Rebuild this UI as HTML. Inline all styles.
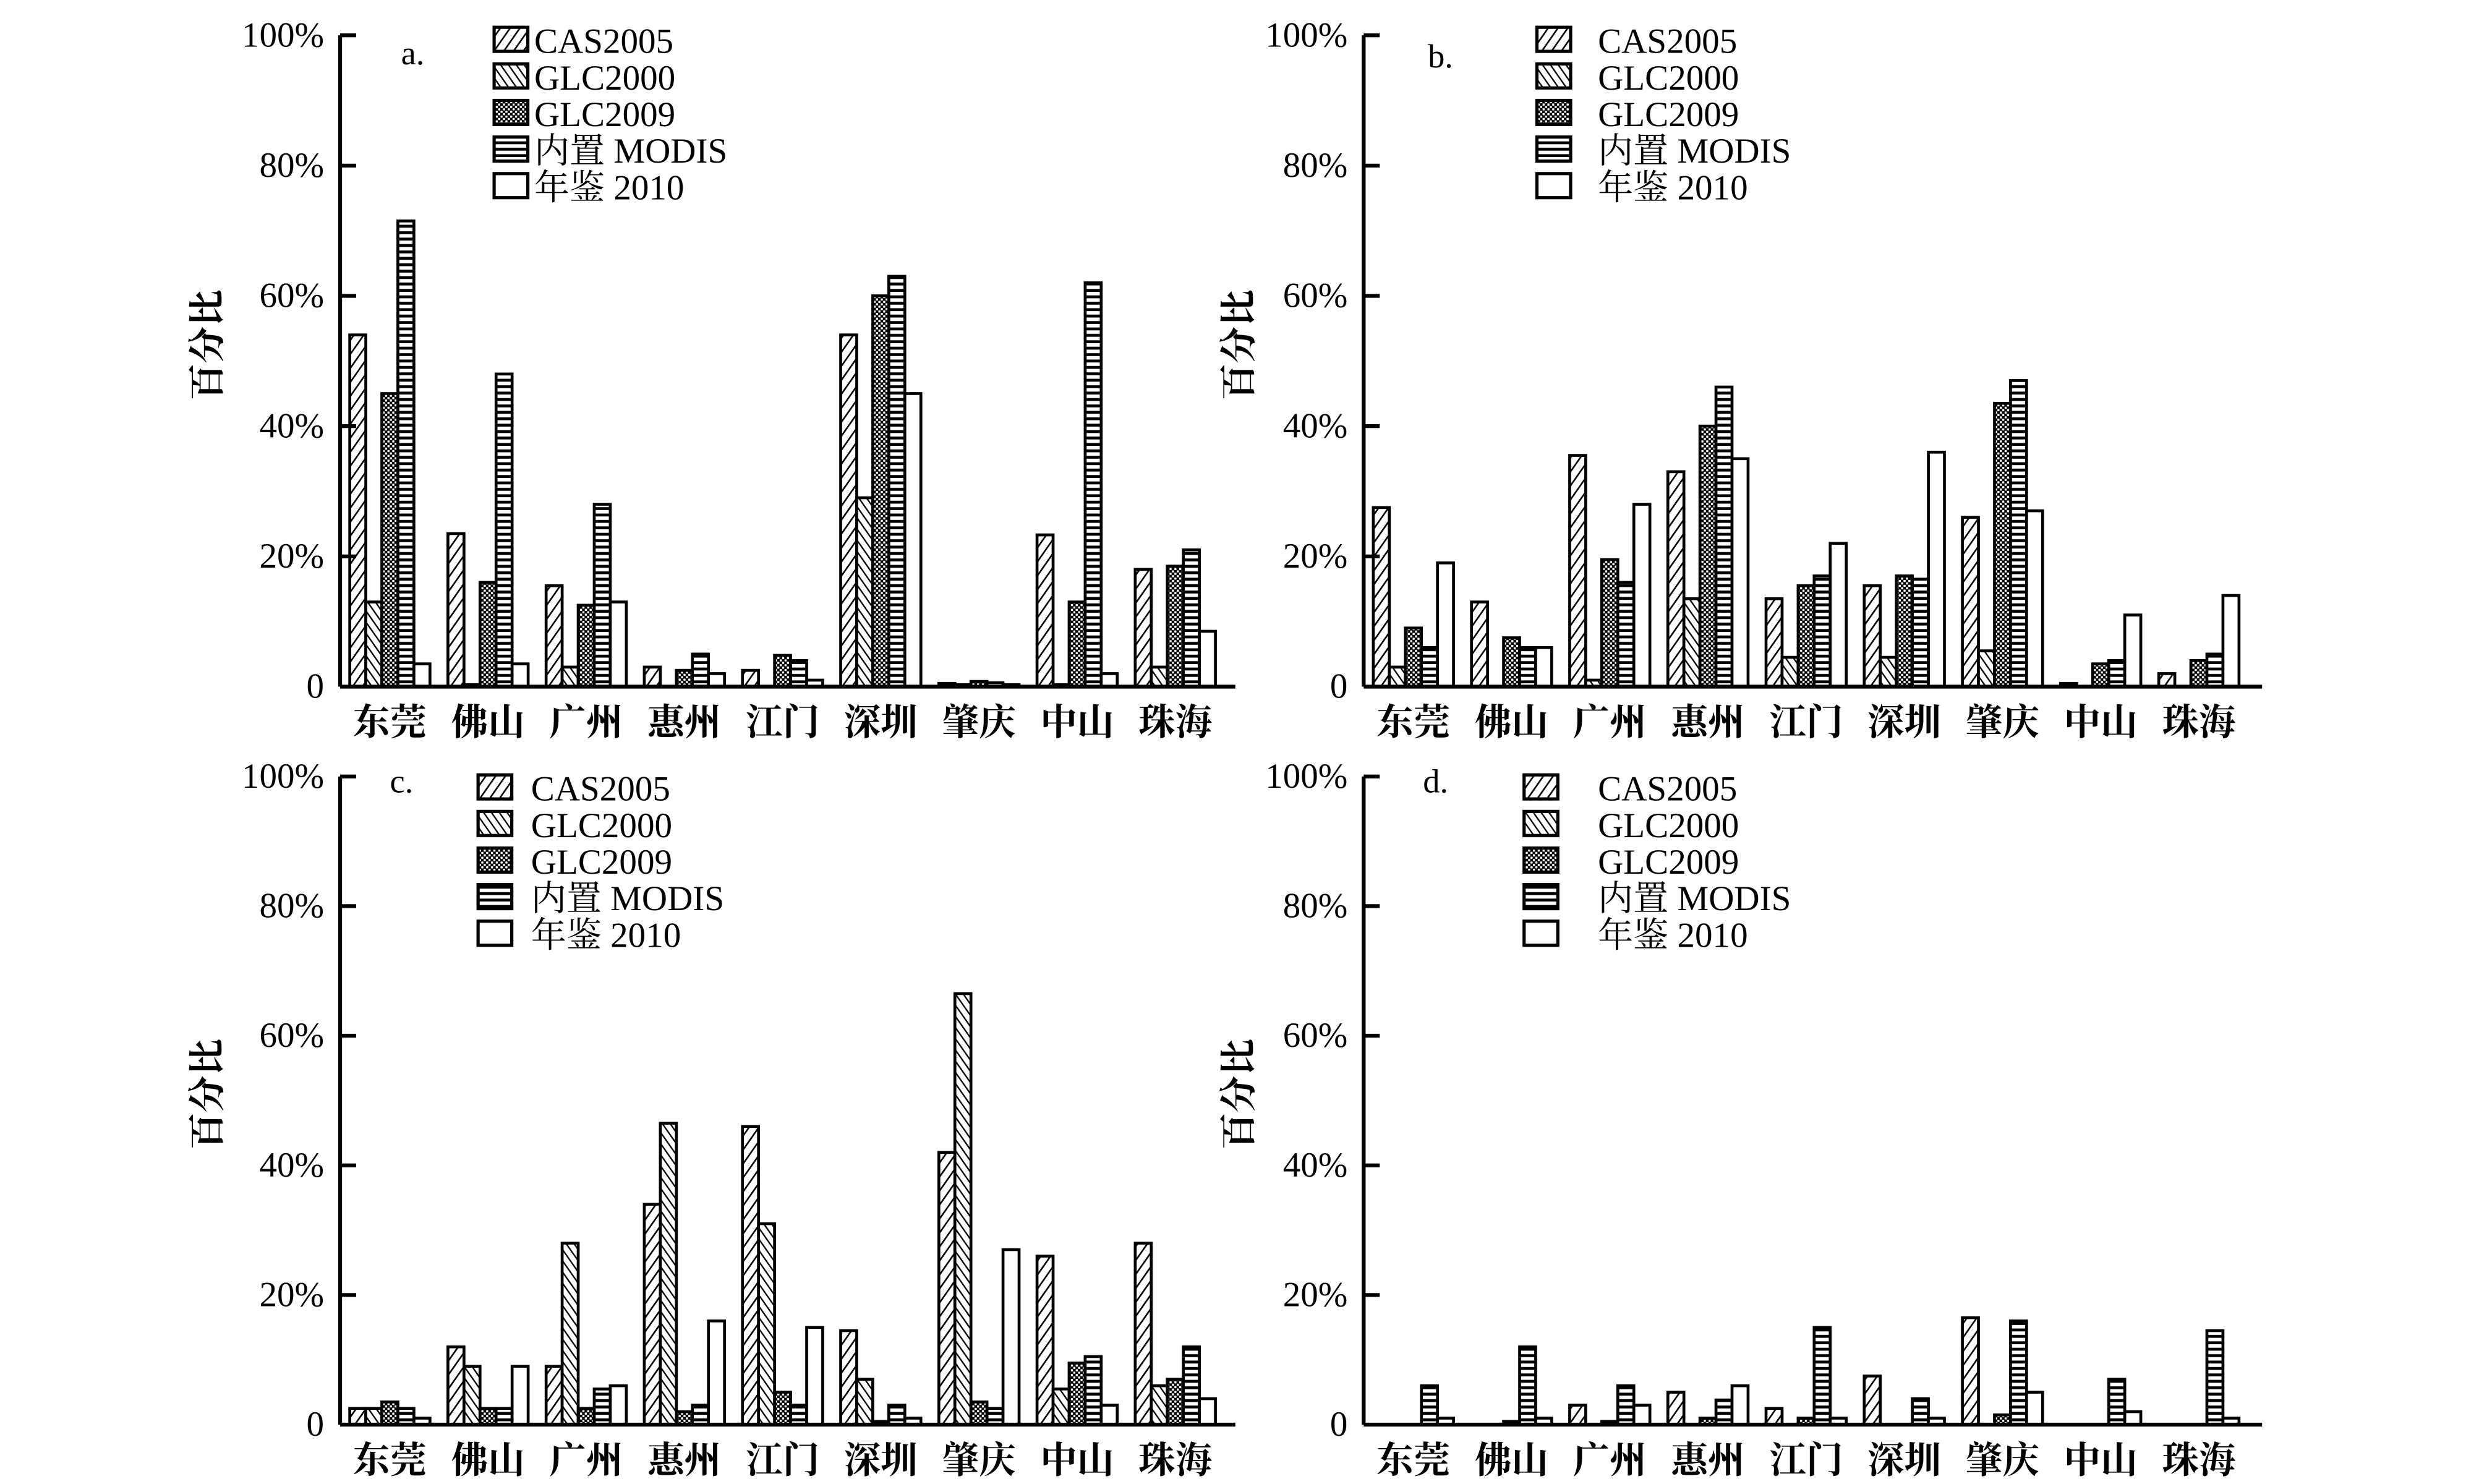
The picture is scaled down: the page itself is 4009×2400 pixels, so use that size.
<!DOCTYPE html>
<html><head><meta charset="utf-8">
<style>
html,body{margin:0;padding:0;background:#fff;}
svg{display:block;}
text{font-family:"Liberation Serif","Noto Serif CJK SC",serif;fill:#000;}
</style></head>
<body>
<svg id="chart" width="4009" height="2400" viewBox="0 0 1545.2 925" xmlns="http://www.w3.org/2000/svg">
<defs>
<pattern id="pCAS" patternUnits="userSpaceOnUse" width="5" height="5" patternTransform="rotate(35)">
<rect width="5" height="5" fill="#fff"/><line x1="0" y1="0" x2="0" y2="5" stroke="#000" stroke-width="2"/></pattern>
<pattern id="pGLC0" patternUnits="userSpaceOnUse" width="4" height="4" patternTransform="rotate(-35)">
<rect width="4" height="4" fill="#fff"/><line x1="0" y1="0" x2="0" y2="4" stroke="#000" stroke-width="1.8"/></pattern>
<pattern id="pGLC9" patternUnits="userSpaceOnUse" width="3" height="3">
<rect width="3" height="3" fill="#000"/><rect width="1.3" height="1.3" fill="#fff"/><rect x="1.5" y="1.5" width="1.3" height="1.3" fill="#fff"/></pattern>
<pattern id="pMOD" patternUnits="userSpaceOnUse" width="4" height="4">
<rect width="4" height="4" fill="#fff"/><line x1="0" y1="1" x2="4" y2="1" stroke="#000" stroke-width="1.8"/></pattern>
</defs>
<g id="root"></g>
</svg>
<script>
const categories = ["东莞","佛山","广州","惠州","江门","深圳","肇庆","中山","珠海"];
const seriesNames = ["CAS2005","GLC2000","GLC2009","内置 MODIS","年鉴 2010"];
const tickLabels = ["0","20%","40%","60%","80%","100%"];
const tickValues = [0,20,40,60,80,100];
// panel a values per series (percent)
const aCAS  = [54,23.5,15.5,3,2.5,54,0.5,23.3,18];
const aG00  = [13,0.3,3,0,0,29,0.3,0.3,3];
const aG09  = [45,16,12.5,2.5,4.8,60,0.8,13,18.5];
const aMOD  = [71.5,48,28,5,4,63,0.6,62,21];
const aYB   = [3.5,3.5,13,2,1,45,0.3,2,8.5];
// panel b
const bCAS  = [27.5,13,35.5,33,13.5,15.5,26,0.5,2];
const bG00  = [3,0,1,13.5,4.5,4.5,5.5,0,0];
const bG09  = [9,7.5,19.5,40,15.5,17,43.5,3.5,4];
const bMOD  = [6,6,16,46,17,16.5,47,4,5];
const bYB   = [19,6,28,35,22,36,27,11,14];
// panel c
const cCAS  = [2.5,12,9,34,46,14.5,42,26,28];
const cG00  = [2.5,9,28,46.5,31,7,66.5,5.5,6];
const cG09  = [3.5,2.5,2.5,2,5,0.5,3.5,9.5,7];
const cMOD  = [2.5,2.5,5.5,3,3,3,2.5,10.5,12];
const cYB   = [1,9,6,16,15,1,27,3,4];
// panel d
const dCAS  = [0,0,3,5,2.5,7.5,16.5,0,0];
const dG00  = [0,0,0,0,0,0,0,0,0];
const dG09  = [0,0.5,0.5,1,1,0,1.5,0,0];
const dMOD  = [6,12,6,3.8,15,4,16,7,14.5];
const dYB   = [1,1,3,6,1,1,5,2,1];

const fills = ["url(#pCAS)","url(#pGLC0)","url(#pGLC9)","url(#pMOD)","#fff"];
const NS = "http://www.w3.org/2000/svg";
const root = document.getElementById('root');
function mk(tag, attrs, parent){const e=document.createElementNS(NS,tag);for(const k in attrs)e.setAttribute(k,attrs[k]);(parent||root).appendChild(e);return e;}

const panels = [
 {id:"a",ax:212,top:22,zero:428,right:770,series:[aCAS,aG00,aG09,aMOD,aYB],letter:[250,40],leg:{bx:308,tx:333,y:25},ylab:[137,215]},
 {id:"b",ax:850,top:22,zero:428,right:1410,series:[bCAS,bG00,bG09,bMOD,bYB],letter:[890,42],leg:{bx:958,tx:996,y:25},ylab:[780,215]},
 {id:"c",ax:212,top:484,zero:888,right:770,series:[cCAS,cG00,cG09,cMOD,cYB],letter:[243,494],leg:{bx:298,tx:331,y:491},ylab:[137,682]},
 {id:"d",ax:850,top:484,zero:888,right:1410,series:[dCAS,dG00,dG09,dMOD,dYB],letter:[887,494],leg:{bx:950,tx:996,y:491},ylab:[780,682]}
];

panels.forEach(p=>{
  const g = mk('g',{});
  
  
  const y = v => p.zero - (v/100)*(p.zero-p.top);
  const xg = i => p.ax + 6 + 61.2*i;
  p.series.forEach((vals,s)=>{
    vals.forEach((v,i)=>{
      if(v<=0) return;
      const r = mk('rect',{x:xg(i)+s*10,y:y(v),width:10,height:p.zero-y(v),fill:fills[s],stroke:"#000","stroke-width":1.8},g);
      
      
    });
  });
  const ya = mk('line',{x1:p.ax,y1:p.top,x2:p.ax,y2:p.zero,stroke:"#000","stroke-width":2.4},g);
  
  
  const xa = mk('line',{x1:p.ax,y1:p.zero,x2:p.right,y2:p.zero,stroke:"#000","stroke-width":2.4},g);
  
  
  tickValues.forEach((tv,k)=>{
    if(tv>0) mk('line',{x1:p.ax,y1:y(tv),x2:p.ax+10,y2:y(tv),stroke:"#000","stroke-width":2.4},g);
    const t = mk('text',{x:p.ax-10,y:y(tv)+7,"text-anchor":"end","font-size":22},g);
    t.textContent = tickLabels[k];
    
    
  });
  categories.forEach((c,i)=>{
    const t = mk('text',{x:xg(i)+25,y:p.zero+30,"text-anchor":"middle","font-size":23,"font-weight":"bold"},g);
    t.textContent = c;
    
    
  });
  const yl = mk('text',{x:p.ylab[0],y:p.ylab[1],"text-anchor":"middle","font-size":23,"font-weight":"bold",transform:`rotate(-90 ${p.ylab[0]} ${p.ylab[1]})`},g);
  yl.textContent = "百分比";
  
  
  const lt = mk('text',{x:p.letter[0],y:p.letter[1],"font-size":21},g);
  lt.textContent = p.id+".";
  
  
  seriesNames.forEach((n,s)=>{
    const yy = p.leg.y + s*22.8;
    const lb = mk('rect',{x:p.leg.bx,y:yy-8,width:21,height:15,fill:fills[s],stroke:"#000","stroke-width":2},g);
    
    
    const tx = mk('text',{x:p.leg.tx,y:yy+8,"font-size":22},g);
    tx.textContent = n;
    
    
  });
});
</script>
</body></html>
